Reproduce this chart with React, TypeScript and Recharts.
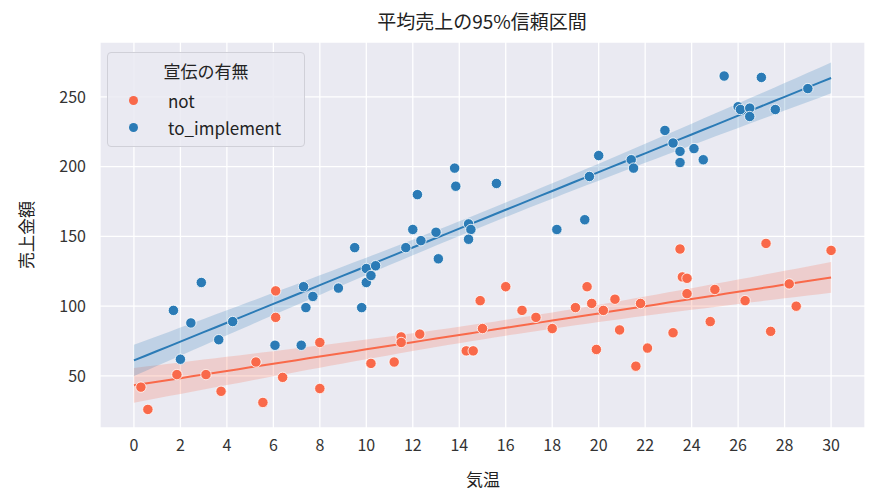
import React from "react";
import { ComposedChart, Scatter, Line, Area, XAxis, YAxis, CartesianGrid } from "recharts";

const notX = [0.3,0.6,1.85,3.1,3.75,5.25,5.55,6.1,6.1,6.4,8.0,8.0,10.2,11.2,11.5,11.5,12.3,14.3,14.6,14.9,15.0,16.0,16.7,17.3,18.0,19.0,19.5,19.7,19.9,20.2,20.7,20.9,21.6,21.8,22.1,23.2,23.5,23.6,23.8,23.8,24.8,25.0,26.3,27.2,27.4,28.2,28.5,30.0];
const notY = [42,26,51,51,39,60,31,111,92,49,74,41,59,60,78,74,80,68,68,104,84,114,97,92,84,99,114,102,69,97,105,83,57,102,70,81,141,121,120,109,89,112,104,145,82,116,100,140];
const implX = [1.7,2.0,2.45,2.9,3.65,4.25,6.07,7.2,7.3,7.4,7.7,8.8,9.5,9.8,10.0,10.0,10.2,10.4,11.7,12.0,12.2,12.35,13.0,13.1,13.8,13.85,14.4,14.5,14.4,15.6,18.2,19.4,19.6,20.0,21.4,21.5,22.85,23.2,23.5,23.5,24.1,24.5,25.4,26.0,26.1,26.5,26.5,27.0,27.6,29.0];
const implY = [97,62,88,117,76,89,72,72,114,99,107,113,142,99,117,127,122,129,142,155,180,147,153,134,199,186,159,155,148,188,155,162,193,208,205,199,226,217,211,203,213,205,265,243,241,242,236,264,241,256];
const xTicks = [0,2,4,6,8,10,12,14,16,18,20,22,24,26,28,30];
const yTicks = [50,100,150,200,250];
const fitRange = [0, 30];

const RED = "#F9694A";
const BLUE = "#2B7BB6";
const FONT = "'Noto Sans CJK JP', 'Noto Sans', sans-serif";

function pts(xs: number[], ys: number[]) {
  return xs.map((x, i) => ({ x, y: ys[i] }));
}

function fit(xs: number[], ys: number[]) {
  const n = xs.length;
  const xm = xs.reduce((a, b) => a + b, 0) / n;
  const ym = ys.reduce((a, b) => a + b, 0) / n;
  let sxx = 0, sxy = 0;
  xs.forEach((x, i) => { sxx += (x - xm) ** 2; sxy += (x - xm) * (ys[i] - ym); });
  const b = sxy / sxx, a = ym - b * xm;
  let sse = 0;
  xs.forEach((x, i) => { sse += (ys[i] - a - b * x) ** 2; });
  const s = Math.sqrt(sse / (n - 2));
  const t = 2.01;
  const [lo, hi] = fitRange;
  const out: any[] = [];
  for (let k = 0; k <= 60; k++) {
    const x = lo + (hi - lo) * k / 60;
    const y = a + b * x;
    const se = s * Math.sqrt(1 / n + (x - xm) ** 2 / sxx);
    out.push({ x, y, band: [y - t * se, y + t * se] });
  }
  return out;
}

const notFit = fit(notX, notY);
const implFit = fit(implX, implY);

const Dot = (color: string) => (p: any) => (
  <circle cx={p.cx} cy={p.cy} r={5.2} fill={color} stroke="#fff" strokeWidth={0.8} />
);

export default function App() {
  return (
    <div style={{ position: "absolute", left: 0, top: 0, width: 883, height: 502, background: "#fff", fontFamily: FONT }}>
      <ComposedChart width={883} height={502} margin={{ left: 40, right: 18, top: 42, bottom: 44 }} style={{ position: "absolute", left: 0, top: 0 }}>
        <CartesianGrid fill="#EAEAF2" stroke="#fff" strokeWidth={1.3} />
        <XAxis type="number" dataKey="x" domain={[-1.46, 31.46]} ticks={xTicks} axisLine={false} tickLine={false} height={30}
          tick={{ fill: "#333", fontSize: 16, fontFamily: FONT }} tickMargin={6} allowDuplicatedCategory={false} />
        <YAxis type="number" dataKey="y" domain={[12.7, 289.4]} ticks={yTicks} axisLine={false} tickLine={false} width={60}
          tick={{ fill: "#333", fontSize: 16, fontFamily: FONT }} tickMargin={8} />
        <Area data={notFit} dataKey="band" type="linear" fill={RED} fillOpacity={0.22} stroke="none" isAnimationActive={false} />
        <Area data={implFit} dataKey="band" type="linear" fill={BLUE} fillOpacity={0.22} stroke="none" isAnimationActive={false} />
        <Scatter data={pts(notX, notY)} dataKey="y" shape={Dot(RED)} isAnimationActive={false} />
        <Scatter data={pts(implX, implY)} dataKey="y" shape={Dot(BLUE)} isAnimationActive={false} />
        <Line data={notFit} dataKey="y" type="linear" stroke={RED} strokeWidth={2} dot={false} isAnimationActive={false} />
        <Line data={implFit} dataKey="y" type="linear" stroke={BLUE} strokeWidth={2} dot={false} isAnimationActive={false} />
        <text x={482} y={29} textAnchor="middle" fontSize={19} fill="#222" fontFamily={FONT}>平均売上の95%信頼区間</text>
        <text x={483} y={486} textAnchor="middle" fontSize={17} fill="#222" fontFamily={FONT}>気温</text>
        <text x={33} y={235} textAnchor="middle" fontSize={17} fill="#222" fontFamily={FONT} transform="rotate(-90 33 235)">売上金額</text>
      </ComposedChart>
      <div style={{ position: "absolute", left: 107, top: 52, width: 198, height: 95, background: "rgba(234,234,242,0.85)", border: "1px solid #d0d0d8", borderRadius: 4, boxSizing: "border-box", color: "#222" }}>
        <div style={{ position: "absolute", left: 0, right: 0, top: 5, textAlign: "center", fontSize: 17 }}>宣伝の有無</div>
        <div style={{ position: "absolute", left: 21, top: 43, width: 9, height: 9, borderRadius: "50%", background: RED }} />
        <div style={{ position: "absolute", left: 60, top: 35, fontSize: 17 }}>not</div>
        <div style={{ position: "absolute", left: 21, top: 70, width: 9, height: 9, borderRadius: "50%", background: BLUE }} />
        <div style={{ position: "absolute", left: 60, top: 62, fontSize: 17 }}>to_implement</div>
      </div>
    </div>
  );
}
